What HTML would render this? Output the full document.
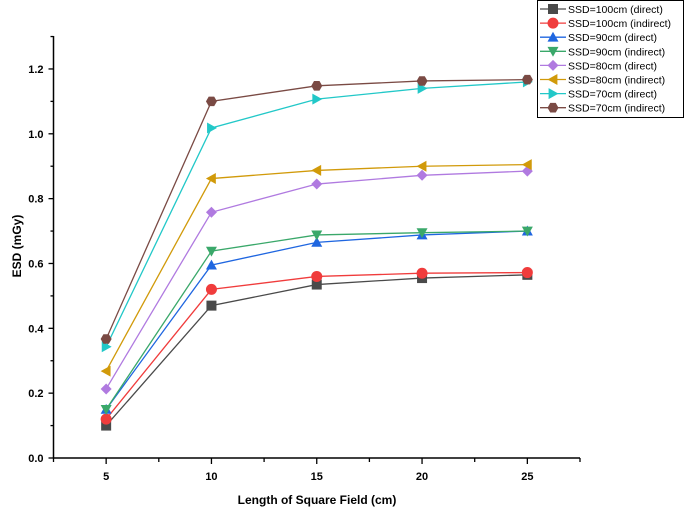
<!DOCTYPE html>
<html><head><meta charset="utf-8"><style>
body{margin:0;background:#fff;}
svg text{font-family:"Liberation Sans",Arial,sans-serif;}
</style></head><body>
<svg id="chart" width="685" height="513" viewBox="0 0 685 513" xmlns="http://www.w3.org/2000/svg"></svg>
<script>
const categories=[5,10,15,20,25];
const xTicks=[5,10,15,20,25];
const yTicks=[0.0,0.2,0.4,0.6,0.8,1.0,1.2];
const seriesNames=["SSD=100cm (direct)","SSD=100cm (indirect)","SSD=90cm (direct)","SSD=90cm (indirect)","SSD=80cm (direct)","SSD=80cm (indirect)","SSD=70cm (direct)","SSD=70cm (indirect)"];
const s100d=[0.10,0.47,0.535,0.555,0.565];
const s100i=[0.12,0.52,0.56,0.57,0.572];
const s90d=[0.15,0.595,0.665,0.688,0.70];
const s90i=[0.15,0.638,0.688,0.695,0.70];
const s80d=[0.213,0.758,0.845,0.872,0.885];
const s80i=[0.268,0.862,0.887,0.90,0.905];
const s70d=[0.343,1.018,1.107,1.14,1.16];
const s70i=[0.367,1.10,1.148,1.163,1.167];
const seriesData=[s100d,s100i,s90d,s90i,s80d,s80i,s70d,s70i];
const colors=["#4a4a4a","#f03c3c","#1f66e0","#3aa86a","#b07ae0","#d19a0a","#22c8c8","#7a4a44"];
const markers=["square","circle","up","down","diamond","left","right","hex"];

const NS="http://www.w3.org/2000/svg";
const svg=document.getElementById('chart');
const X0=53.5,X1=580,xMin=2.5,xMax=27.5;
const Y0=458,yPer=324.2;
const xs=v=>X0+(v-xMin)/(xMax-xMin)*(X1-X0);
const ys=v=>Y0-v*yPer;
function mk(tag,attrs,parent){const e=document.createElementNS(NS,tag);for(const k in attrs)e.setAttribute(k,attrs[k]);(parent||svg).appendChild(e);return e;}
function marker(type,cx,cy,col,parent){
  const r=5.5;let e;
  if(type==="square")e=mk('rect',{x:cx-r+0.5,y:cy-r+0.5,width:2*r-1,height:2*r-1,fill:col},parent);
  else if(type==="circle")e=mk('circle',{cx:cx,cy:cy,r:r,fill:col},parent);
  else{let pts;
    if(type==="up")pts=[[0,-r],[r,r*0.8],[-r,r*0.8]];
    else if(type==="down")pts=[[0,r],[r,-r*0.8],[-r,-r*0.8]];
    else if(type==="left")pts=[[-r,0],[r*0.8,-r],[r*0.8,r]];
    else if(type==="right")pts=[[r,0],[-r*0.8,-r],[-r*0.8,r]];
    else if(type==="diamond")pts=[[0,-r],[r,0],[0,r],[-r,0]];
    else pts=[0,1,2,3,4,5].map(i=>[r*Math.cos(Math.PI/3*i),r*Math.sin(Math.PI/3*i)]);
    e=mk('polygon',{points:pts.map(p=>(cx+p[0])+','+(cy+p[1])).join(' '),fill:col},parent);}
  return e;
}
// axes
const ax=mk('g',{});


mk('line',{x1:X0,y1:36,x2:X0,y2:Y0,stroke:'#000','stroke-width':1.5},ax);
mk('line',{x1:X0,y1:Y0,x2:X1,y2:Y0,stroke:'#000','stroke-width':1.5},ax);
for(let v=0;v<=1.3001;v+=0.1){const y=ys(v);const major=Math.round(v*10)%2===0;mk('line',{x1:X0-(major?5:3),y1:y,x2:X0,y2:y,stroke:'#000','stroke-width':1.3},ax);}
yTicks.forEach(v=>{const t=mk('text',{x:X0-10,y:ys(v)+4,'text-anchor':'end','font-size':11,'font-weight':'bold'},ax);t.textContent=v.toFixed(1);
});
for(let v=2.5;v<=27.5;v+=2.5){const x=xs(v);const major=(v%5===0);mk('line',{x1:x,y1:Y0,x2:x,y2:Y0+(major?6:4),stroke:'#000','stroke-width':1.3},ax);}
xTicks.forEach(v=>{const t=mk('text',{x:xs(v),y:Y0+22,'text-anchor':'middle','font-size':11,'font-weight':'bold'},ax);t.textContent=v;
});
const xt=mk('text',{x:317,y:504,'text-anchor':'middle','font-size':12,'font-weight':'bold'});xt.textContent="Length of Square Field (cm)";

const yt=mk('text',{x:0,y:0,'text-anchor':'middle','font-size':12,'font-weight':'bold',transform:'translate(21,246) rotate(-90)'});yt.textContent="ESD (mGy)";

// series
seriesData.forEach((d,i)=>{
  const g=mk('g',{});
  
  
  mk('polyline',{points:d.map((v,j)=>xs(categories[j])+','+ys(v)).join(' '),fill:'none',stroke:colors[i],'stroke-width':1.3},g);
  d.forEach((v,j)=>{const m=marker(markers[i],xs(categories[j]),ys(v),colors[i],g);
    });
});
// legend
const lg=mk('g',{});


mk('rect',{x:537.5,y:0.5,width:146,height:117,fill:'#fff',stroke:'#000','stroke-width':1},lg);
seriesNames.forEach((n,i)=>{
  const y=9+i*14.1;
  const e=mk('g',{},lg);
  
  
  mk('line',{x1:540,y1:y,x2:566,y2:y,stroke:colors[i],'stroke-width':1.3},e);
  marker(markers[i],553,y,colors[i],e);
  const t=mk('text',{x:568,y:y+4,'font-size':10.5},e);t.textContent=n;
});
</script>
</body></html>
